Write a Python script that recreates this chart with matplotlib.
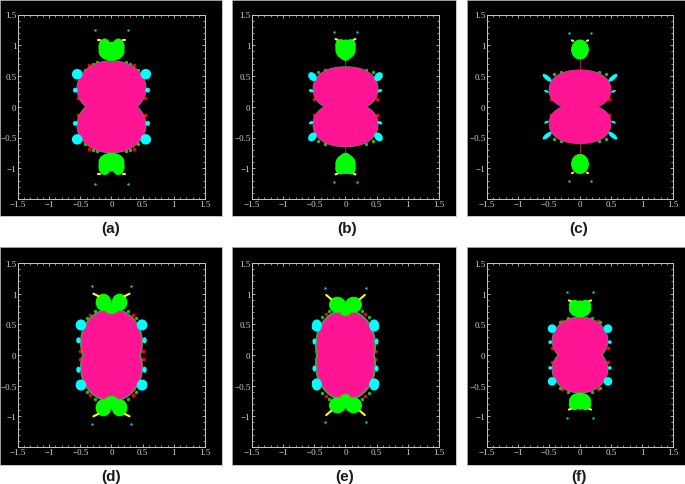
import matplotlib
matplotlib.use("Agg")
import matplotlib.pyplot as plt
import numpy as np
from matplotlib.patches import Ellipse, Polygon

W, H = 685, 485

names = ["(a)", "(b)", "(c)", "(d)", "(e)", "(f)"]
tick_vals = [-1.5, -1, -0.5, 0, 0.5, 1, 1.5]
tick_text = ["\u22121.5", "\u22121", "\u22120.5", "0", "0.5", "1", "1.5"]

# pink lobes: centre height, half width, half height, roundness
lobe_cy = [0.30, 0.29, 0.275, 0.20, 0.16, 0.235]
lobe_rx = [0.55, 0.52, 0.50, 0.48, 0.46, 0.445]
lobe_ry = [0.445, 0.36, 0.325, 0.54, 0.56, 0.38]
lobe_n = [2.0, 2.2, 2.2, 2.0, 2.0, 2.0]
rim_w = [0.012, 0.008, 0.004, 0.025, 0.03, 0.012]

# green bulbs, one row per panel: x, y, rx, ry (mirrored)
green = [
    [(0.11, 0.97, 0.10, 0.14), (0.0, 0.90, 0.205, 0.15)],
    [(0.08, 1.00, 0.085, 0.10), (0.0, 0.93, 0.16, 0.16), (0.0, 0.85, 0.09, 0.10)],
    [(0.0, 0.93, 0.14, 0.16)],
    [(0.13, 0.86, 0.125, 0.14), (0.0, 0.76, 0.11, 0.09)],
    [(0.13, 0.82, 0.135, 0.13), (0.0, 0.74, 0.10, 0.10)],
    [(0.09, 0.81, 0.09, 0.09), (0.0, 0.75, 0.175, 0.135)],
]

# cyan bulbs: x, y, rx, ry, angle
cyan = [
    [(0.55, 0.53, 0.085, 0.085, 0), (0.58, 0.27, 0.04, 0.04, 0)],
    [(0.53, 0.49, 0.08, 0.06, 50), (0.55, 0.26, 0.04, 0.025, 20)],
    [(0.53, 0.47, 0.09, 0.035, 40), (0.54, 0.25, 0.04, 0.018, 25)],
    [(0.49, 0.49, 0.085, 0.09, 0), (0.53, 0.24, 0.035, 0.05, 0), (0.53, 0.45, 0.03, 0.03, 0)],
    [(0.46, 0.48, 0.08, 0.10, 0), (0.50, 0.22, 0.03, 0.05, 0), (0.51, 0.45, 0.03, 0.04, 0)],
    [(0.45, 0.43, 0.07, 0.07, 0), (0.48, 0.21, 0.03, 0.03, 0)],
]

# yellow sticks next to the green bulbs (d, e only have long ones)
stick_x = [(0.19, 0.21), (0.13, 0.16), (0.11, 0.13), (0.21, 0.29), (0.23, 0.31), (0.15, 0.18)]
stick_y = [(1.09, 1.09), (1.09, 1.10), (1.07, 1.08), (0.96, 1.00), (0.91, 0.98), (0.88, 0.89)]

# tiny cyan specks
speck_x = [0.27, 0.19, 0.17, 0.31, 0.33, 0.21]
speck_y = [1.25, 1.22, 1.20, 1.13, 1.10, 1.02]

# little coloured dots round the lobes
red_x = [[0.36, 0.53], [0.50], [0.47], [0.34, 0.50], [0.32, 0.47], [0.29, 0.45]]
red_y = [[0.68, 0.14], [0.13], [0.13], [0.66, 0.07], [0.67, 0.07], [0.55, 0.11]]
dot_x = [[0.24, 0.43, 0.30], [0.33, 0.44], [0.30, 0.42], [0.27, 0.40], [0.26, 0.38], [0.20, 0.33]]
dot_y = [[0.72, 0.60, 0.70], [0.60, 0.56], [0.56, 0.53], [0.72, 0.60], [0.72, 0.62], [0.60, 0.54]]

# pixel boxes: x0, x1, y0, y1
panel_px = [(0, 222, 1, 217), (232, 456, 1, 217), (467, 685, 1, 217),
            (0, 222, 248, 466), (232, 456, 248, 466), (467, 685, 248, 466)]
inner_px = [(18, 205, 15.5, 200), (252, 439, 15.5, 200), (487, 673, 15.5, 200),
            (18, 205, 264, 448), (252, 439, 264, 448), (487, 673, 264, 448)]
name_px = [(111, 229), (347, 229), (579, 229), (111, 477), (345, 477), (579, 477)]


def px_axes(fig, box):
    x0, x1, y0, y1 = box
    return fig.add_axes([x0 / W, 1 - y1 / H, (x1 - x0) / W, (y1 - y0) / H])


def quad(x, y):
    return [(x, y), (-x, y), (x, -y), (-x, -y)]


def lobe(cy, rx, ry, n):
    t = np.linspace(0, 2 * np.pi, 200)
    xs = rx * np.sign(np.cos(t)) * np.abs(np.cos(t)) ** (2 / n)
    ys = cy + ry * np.sign(np.sin(t)) * np.abs(np.sin(t)) ** (2 / n)
    return np.column_stack([xs, ys])


fig = plt.figure(figsize=(W / 100, H / 100), dpi=100, facecolor="white")

for i in range(6):
    back = px_axes(fig, panel_px[i])
    back.set_facecolor("black")
    back.set_xticks([])
    back.set_yticks([])
    for s in back.spines.values():
        s.set_color("#b8bcc0")
        s.set_linewidth(0.6)

    ax = px_axes(fig, inner_px[i])
    ax.set_facecolor("black")
    ax.set_xlim(-1.5, 1.5)
    ax.set_ylim(-1.5, 1.5)
    ax.set_xticks(tick_vals)
    ax.set_xticklabels(tick_text)
    ax.set_yticks(tick_vals[1:])
    ax.set_yticklabels(tick_text[1:])
    ax.set_xticks([k / 10 for k in range(-15, 16)], minor=True)
    ax.set_yticks([k / 10 for k in range(-15, 16)], minor=True)
    ax.tick_params(which="major", direction="in", length=2.5, width=0.6, color="#c8c8c8",
                   top=True, right=True, labelcolor="#d0d0d0", labelsize=6.5, pad=1)
    ax.tick_params(which="minor", direction="in", length=1.2, width=0.5, color="#c8c8c8",
                   top=True, right=True)
    for lab in ax.get_xticklabels() + ax.get_yticklabels():
        lab.set_family("Liberation Serif")
    for s in ax.spines.values():
        s.set_color("#c8c8c8")
        s.set_linewidth(0.7)

    # thin stem between lobes and bulbs
    ax.plot([0, 0], [-0.9, 0.9], color="#a01060", lw=0.7, zorder=1)

    # rim and pink lobes
    for cy in (lobe_cy[i], -lobe_cy[i]):
        ax.add_patch(Polygon(lobe(cy, lobe_rx[i] + rim_w[i], lobe_ry[i] + rim_w[i], lobe_n[i]),
                             color="#4f9a5a", lw=0, zorder=2))
    for cy in (lobe_cy[i], -lobe_cy[i]):
        ax.add_patch(Polygon(lobe(cy, lobe_rx[i], lobe_ry[i], lobe_n[i]),
                             color="#ff1493", lw=0, zorder=2.5))

    # green bulbs, over the pink so d and e keep their notch
    for x, y, rx, ry in green[i]:
        for px, py in quad(x, y):
            ax.add_patch(Ellipse((px, py), 2 * rx, 2 * ry, color="#00ff00", lw=0, zorder=4))

    # cyan bulbs
    for x, y, rx, ry, ang in cyan[i]:
        ax.add_patch(Ellipse((x, y), 2 * rx, 2 * ry, angle=ang, color="#00ffff", lw=0, zorder=3))
        ax.add_patch(Ellipse((-x, y), 2 * rx, 2 * ry, angle=-ang, color="#00ffff", lw=0, zorder=3))
        ax.add_patch(Ellipse((x, -y), 2 * rx, 2 * ry, angle=-ang, color="#00ffff", lw=0, zorder=3))
        ax.add_patch(Ellipse((-x, -y), 2 * rx, 2 * ry, angle=ang, color="#00ffff", lw=0, zorder=3))

    # yellow sticks
    for sx in (1, -1):
        for sy in (1, -1):
            ax.plot([sx * v for v in stick_x[i]], [sy * v for v in stick_y[i]],
                    color="#ffff00", lw=1.5, solid_capstyle="round", zorder=5)

    pts = quad(speck_x[i], speck_y[i])
    ax.scatter([p[0] for p in pts], [p[1] for p in pts], s=3, color="#00cccc", lw=0, zorder=5)

    for xs, ys, col, size in ((red_x[i], red_y[i], "#ff0000", 7), (dot_x[i], dot_y[i], "#22bb22", 6)):
        for x, y in zip(xs, ys):
            pts = quad(x, y)
            ax.scatter([p[0] for p in pts], [p[1] for p in pts], s=size, color=col, lw=0, zorder=1.8)

    fig.text(name_px[i][0] / W, 1 - name_px[i][1] / H, names[i], family="Liberation Sans",
             weight="bold", fontsize=11, ha="center", va="center", color="#1a1a1a")

fig.savefig("out.png", dpi=100)
